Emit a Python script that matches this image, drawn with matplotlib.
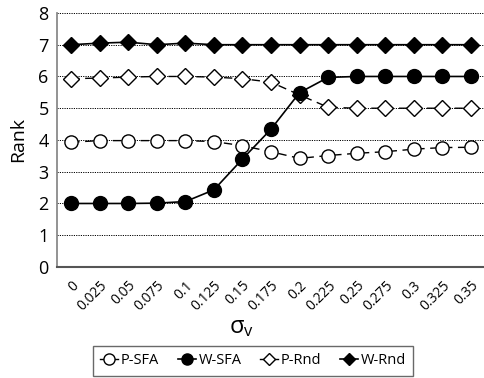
import matplotlib.pyplot as plt
from matplotlib.lines import Line2D

plt.rcParams['font.family'] = ['Open Sans', 'DejaVu Sans']

sigma_labels = ['0', '0.025', '0.05', '0.075', '0.1', '0.125', '0.15', '0.175',
                '0.2', '0.225', '0.25', '0.275', '0.3', '0.325', '0.35']
p_sfa = [3.93, 3.98, 3.98, 3.98, 3.98, 3.95, 3.82, 3.63, 3.42, 3.51, 3.58, 3.63, 3.71, 3.76, 3.77]
w_sfa = [2.0, 2.0, 2.0, 2.01, 2.06, 2.43, 3.40, 4.34, 5.49, 5.97, 6.0, 6.0, 6.0, 6.0, 6.0]
p_rnd = [5.93, 5.95, 5.98, 6.0, 6.0, 5.98, 5.93, 5.82, 5.42, 5.03, 5.0, 5.0, 5.0, 5.0, 5.0]
w_rnd = [7.0, 7.05, 7.08, 7.0, 7.05, 7.0, 7.0, 7.0, 7.0, 7.0, 7.0, 7.0, 7.0, 7.0, 7.0]

x = list(range(len(sigma_labels)))

fig = plt.figure(figsize=(4.85, 3.78), dpi=100)
ax = fig.add_axes([0.1175, 0.2937, 0.8825, 0.672])

for yv in range(1, 9):
    ax.axhline(yv, color='black', lw=0.7, ls=(0, (1.2, 1.2)), zorder=0)

ax.plot(x, p_rnd, color='black', lw=1.0, ls=(0, (6, 4)), marker='D', ms=8,
        mfc='white', mec='black', mew=1.0, label='P-Rnd', zorder=2)
ax.plot(x, p_sfa, color='black', lw=1.0, ls=(0, (6, 4)), marker='o', ms=9.5,
        mfc='white', mec='black', mew=1.0, label='P-SFA', zorder=2)
ax.plot(x, w_rnd, color='black', lw=1.2, marker='D', ms=8,
        mfc='black', mec='black', label='W-Rnd', zorder=3)
ax.plot(x, w_sfa, color='black', lw=1.2, marker='o', ms=10,
        mfc='black', mec='black', label='W-SFA', zorder=3)

ax.set_xlim(-0.5, len(x) - 0.5)
ax.set_ylim(0, 8)
ax.set_yticks(range(0, 9))
ax.tick_params(axis='y', length=0, labelsize=13, pad=6)
ax.set_xticks(x)
ax.set_xticklabels(sigma_labels, rotation=45, ha='right', va='top',
                   rotation_mode='anchor', fontsize=10)
ax.tick_params(axis='x', length=0, pad=8)

for s in ['top', 'right']:
    ax.spines[s].set_visible(False)
ax.spines['left'].set_color('#8a8a8a')
ax.spines['left'].set_linewidth(1.3)
ax.spines['bottom'].set_color('#555555')
ax.spines['bottom'].set_linewidth(1.5)

ax.set_ylabel('Rank', fontsize=14, labelpad=8)
fig.text(0.497, 0.135, r'$\mathregular{\sigma_v}$', fontsize=17, ha='center', va='center')

handles = [
    Line2D([], [], color='black', lw=1.0, marker='o', ms=8, mfc='white', mec='black'),
    Line2D([], [], color='black', lw=1.2, marker='o', ms=8, mfc='black', mec='black'),
    Line2D([], [], color='black', lw=1.0, marker='D', ms=6.5, mfc='white', mec='black'),
    Line2D([], [], color='black', lw=1.2, marker='D', ms=6.5, mfc='black', mec='black'),
]
leg = fig.legend(handles, ['P-SFA', 'W-SFA', 'P-Rnd', 'W-Rnd'], loc='center',
                 bbox_to_anchor=(0.522, 0.045), ncol=4, frameon=True, fancybox=False,
                 fontsize=10.5, handlelength=1.2, handletextpad=0.2, columnspacing=1.3,
                 borderpad=0.5)
leg.get_frame().set_edgecolor('#444444')
leg.get_frame().set_linewidth(1.0)

fig.savefig('out.png', dpi=100)
